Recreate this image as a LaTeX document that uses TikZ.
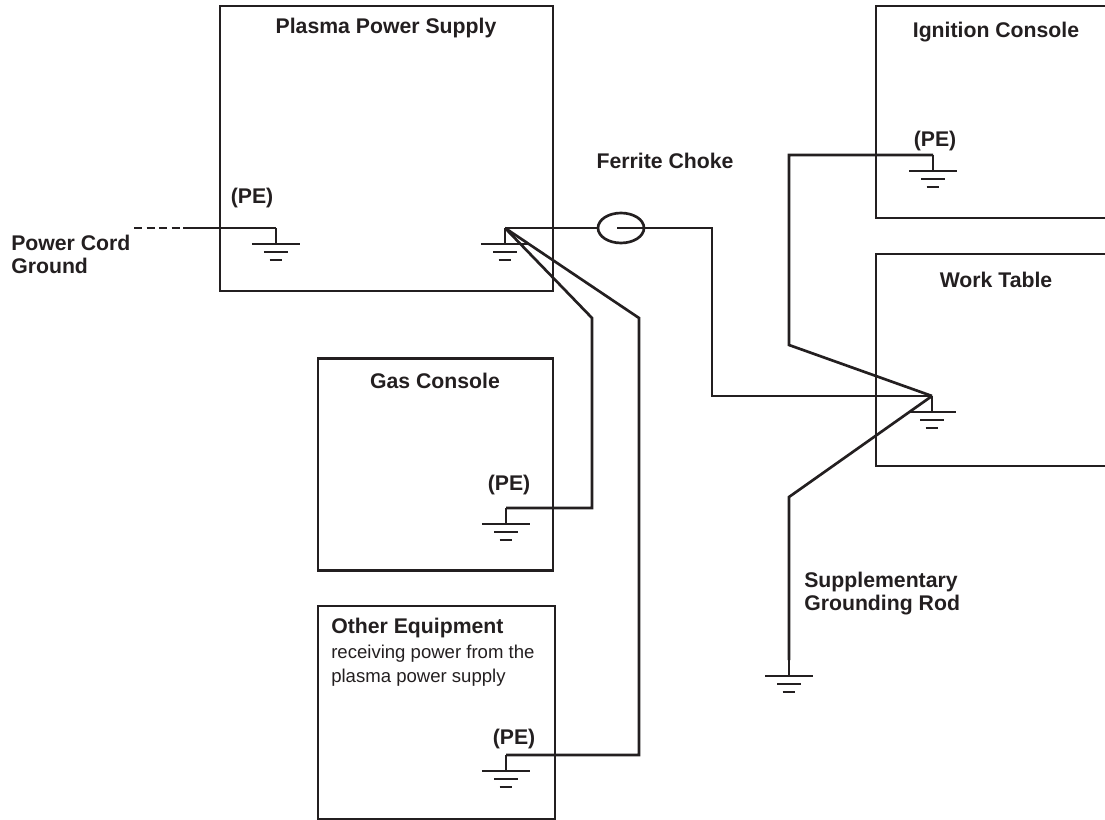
\documentclass[tikz,border=0pt]{standalone}
\usepackage{fontspec}
\setmainfont{Liberation Sans}
\usetikzlibrary{positioning, shapes.geometric}
\definecolor{inkblack}{HTML}{231F20}
\tikzset{
  wire/.style={line width=1.9pt, color=inkblack, line join=miter},
  panel/.style={draw=inkblack, line width=1.9pt, inner sep=0pt},
  label/.style={font=\bfseries\fontsize{15.1}{16.4}\selectfont, text=inkblack, inner sep=0pt, align=left},
  small/.style={font=\fontsize{13.2}{17}\selectfont, text=inkblack, inner sep=0pt, align=left},
  choke/.style={ellipse, draw=inkblack, line width=1.9pt, minimum width=1.15cm, minimum height=0.75cm, inner sep=0pt}
}
% earth symbol hanging from a named point
\newcommand{\earth}[1]{
  \draw[wire] (#1) -- ++(0,16) coordinate (#1bar);
  \draw[wire] ([xshift=-0.6cm]#1bar) -- ([xshift=0.6cm]#1bar);
  \draw[wire] ([xshift=-0.3cm,yshift=-0.2cm]#1bar) -- ([xshift=0.3cm,yshift=-0.2cm]#1bar);
  \draw[wire] ([xshift=-0.16cm,yshift=-0.4cm]#1bar) -- ([xshift=0.16cm,yshift=-0.4cm]#1bar);
}
\begin{document}
\begin{tikzpicture}[x=0.025cm, y=-0.025cm]
\useasboundingbox (0,0) rectangle (1105,820);

% boxes
\node[panel, minimum width=8.325cm, minimum height=7.125cm] (plasma) at (386.5,148.5) {};
\node[panel, minimum width=5.875cm, minimum height=5.3cm] (gas) at (435.5,464.5) {};
\node[panel, minimum width=5.925cm, minimum height=5.325cm] (other) at (436.5,712.5) {};
\node[panel, minimum width=6cm, minimum height=5.3cm] (ignition) at (996,112) {};
\node[panel, minimum width=6cm, minimum height=5.3cm] (table) at (996,360) {};

% titles
\node[label] (plasmatxt) at (386,28) {Plasma Power Supply};
\node[label] (gastxt) at (435,381) {Gas Console};
\node[label] (ignitiontxt) at (996,32) {Ignition Console};
\node[label] (tabletxt) at (996,280) {Work Table};
\node[label, anchor=west] (othertxt) at (331,628) {Other Equipment};
\node[small, anchor=north west] (othersub) at (331,645) {receiving power from the\\plasma power supply};

\node[label, anchor=west] (cordtxt) at (11,254) {Power Cord\\Ground};
\node[label] (chokelbl) at (665,161) {Ferrite Choke};
\node[label, anchor=west] (rodtxt) at (804,594) {Supplementary\\Grounding Rod};
\node[label] (pe1) at (252,198) {(PE)};
\node[label] (pe2) at (935,141) {(PE)};
\node[label] (pe3) at (509,485) {(PE)};
\node[label] (pe4) at (514,739) {(PE)};

% junction points
\coordinate (cordend) at (134,228);
\coordinate (cordmid) at (183,228);
\coordinate (pegnd) at (276,228);
\coordinate (psgnd) at (505,228);
\coordinate (ignitiongnd) at (933,155);
\coordinate (tablegnd) at (932,396);
\coordinate (gasgnd) at (506,508);
\coordinate (othergnd) at (506,755);
\coordinate (rodgnd) at (789,660);
\coordinate (chokein) at (617,228);

\node[choke] (ferrite) at (621,228) {};

\earth{pegnd}
\earth{psgnd}
\earth{ignitiongnd}
\earth{tablegnd}
\earth{gasgnd}
\earth{othergnd}
\earth{rodgnd}

% wires
\draw[wire, dash pattern=on 5.7pt off 3.2pt] (cordend) -- (cordmid);
\draw[wire] (cordmid) -- (pegnd);
\draw[wire] (psgnd) -- (ferrite.west);
\draw[wire] (chokein) -- (712,228) -- (712,396) -- (tablegnd);
\draw[wire] (psgnd) -- (592,318) -- (592,508) -- (gasgnd);
\draw[wire] (psgnd) -- (639,318) -- (639,755) -- (othergnd);
\draw[wire] (ignitiongnd) -- (789,155) -- (789,345) -- (tablegnd);
\draw[wire] (tablegnd) -- (789,497) -- (rodgnd);
\end{tikzpicture}
\end{document}
